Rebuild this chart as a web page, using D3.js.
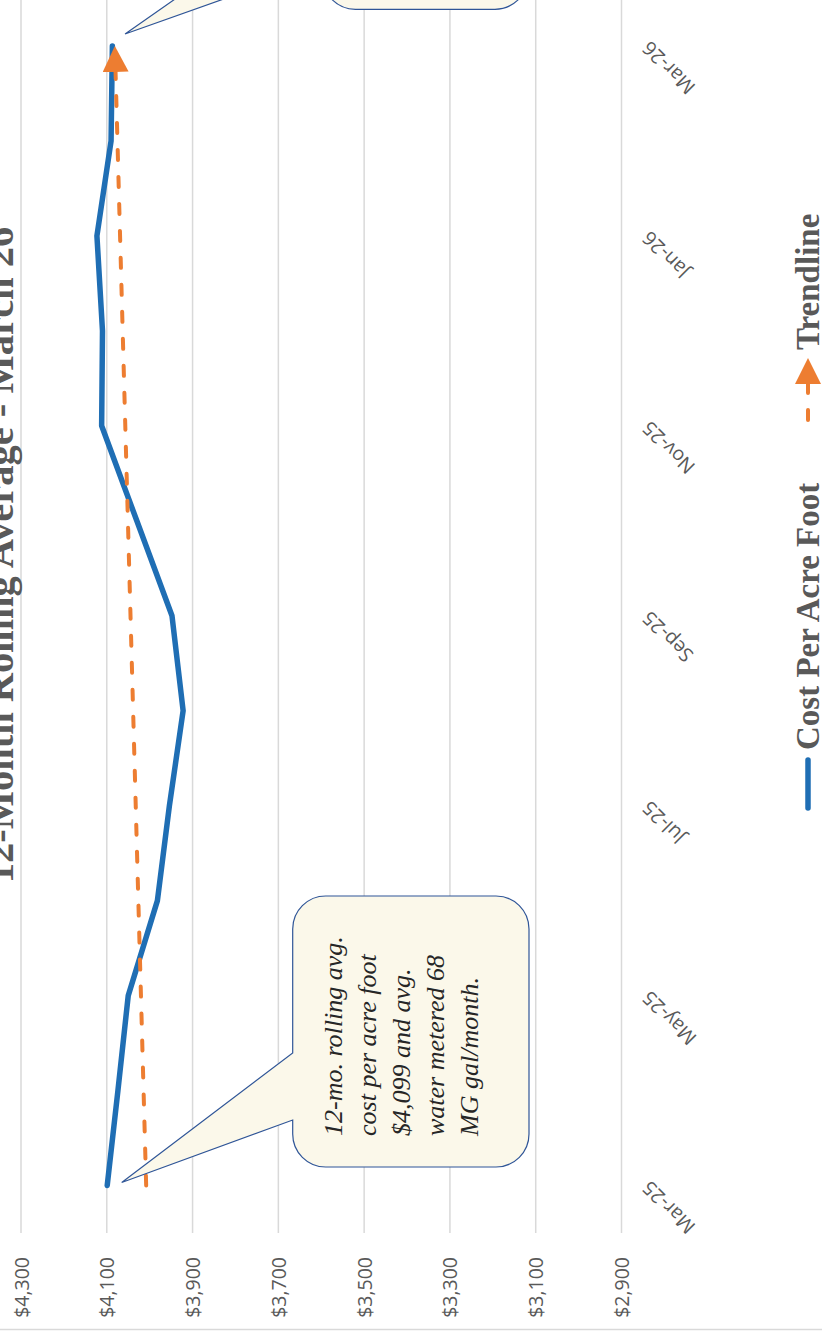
<!DOCTYPE html>
<html>
<head>
<meta charset="utf-8">
<script src="https://cdn.jsdelivr.net/npm/d3@7"></script>
<style>
  html, body { margin: 0; padding: 0; background: #fff; }
  svg { display: block; }
</style>
</head>
<body>
<svg id="chart" width="822" height="1331"></svg>
<script>
// ---- data ----
const months = ["Mar-25","Apr-25","May-25","Jun-25","Jul-25","Aug-25","Sep-25","Oct-25","Nov-25","Dec-25","Jan-26","Feb-26","Mar-26"];
const costPerAcreFoot = [4099, 4074, 4050, 3982, 3954, 3922, 3948, 4030, 4112, 4110, 4123, 4090, 4087];
const yTicks = [2900, 3100, 3300, 3500, 3700, 3900, 4100, 4300];
const labelMonths = ["Mar-25","May-25","Jul-25","Sep-25","Nov-25","Jan-26","Mar-26"];
const titleText = "12-Month Rolling Average - March 26";
const seriesName = "Cost Per Acre Foot";
const trendName = "Trendline";
const calloutLines = ["12-mo. rolling avg.", "cost per acre foot", "$4,099 and avg.", "water metered 68", "MG gal/month."];

// ---- layout ----
const W = 822, H = 1331;
const BLUE = "#1f6eb4", ORANGE = "#ed7d31", GRID = "#d9d9d9", TEXT = "#595959";
const plot = { left: 98, right: 1332.5, top: 21, bottom: 621.5 };

const svg = d3.select("#chart");
const defs = svg.append("defs");
defs.append("marker")
  .attr("id", "arrow")
  .attr("viewBox", "0 0 26 26")
  .attr("refX", 18).attr("refY", 13)
  .attr("markerWidth", 26).attr("markerHeight", 26)
  .attr("markerUnits", "userSpaceOnUse")
  .attr("orient", "auto")
  .append("path").attr("d", "M0,0 L26,13 L0,26 Z").attr("fill", ORANGE);

// the whole chart is laid out in its own frame and turned a quarter turn
const g = svg.append("g").attr("transform", `translate(0,${H}) rotate(-90)`);

const x = d3.scalePoint().domain(months).range([plot.left, plot.right]).padding(0.5);
const y = d3.scaleLinear().domain([2900, 4300]).range([plot.bottom, plot.top]);

// outer border of the chart area
g.append("line").attr("x1", 1.5).attr("x2", 1.5).attr("y1", 0).attr("y2", W)
  .attr("stroke", GRID).attr("stroke-width", 1.5);

// gridlines
g.append("g").selectAll("line").data(yTicks).join("line")
  .attr("x1", plot.left).attr("x2", plot.right)
  .attr("y1", d => y(d)).attr("y2", d => y(d))
  .attr("stroke", GRID).attr("stroke-width", 1.5);

// value axis labels
g.append("g").selectAll("text").data(yTicks).join("text")
  .attr("x", plot.left - 24).attr("y", d => y(d))
  .attr("text-anchor", "end").attr("dominant-baseline", "central")
  .attr("font-family", "'Open Sans', sans-serif").attr("font-size", 19.5)
  .attr("fill", TEXT)
  .text(d => d3.format("$,")(d));

// category labels
g.append("g").selectAll("text").data(labelMonths).join("text")
  .attr("transform", d => `translate(${x(d) + 6},${plot.bottom + 29}) rotate(-45)`)
  .attr("text-anchor", "end")
  .attr("font-family", "'Open Sans', sans-serif").attr("font-size", 19.5)
  .attr("fill", TEXT)
  .text(d => d);

// series
const pts = months.map((m, i) => ({ m, v: costPerAcreFoot[i], i }));
g.append("path").datum(pts)
  .attr("d", d3.line().x(d => x(d.m)).y(d => y(d.v)))
  .attr("fill", "none").attr("stroke", BLUE).attr("stroke-width", 5.5)
  .attr("stroke-linejoin", "round").attr("stroke-linecap", "round");

// least-squares trendline
const n = pts.length;
const mi = d3.mean(pts, d => d.i), mv = d3.mean(pts, d => d.v);
const slope = d3.sum(pts, d => (d.i - mi) * (d.v - mv)) / d3.sum(pts, d => (d.i - mi) ** 2);
const icpt = mv - slope * mi;
const t0 = [x(months[0]), y(icpt)];
const t1 = [x(months[n - 1]), y(icpt + slope * (n - 1))];
const len = Math.hypot(t1[0] - t0[0], t1[1] - t0[1]);
const ux = (t1[0] - t0[0]) / len, uy = (t1[1] - t0[1]) / len;
g.append("line")
  .attr("x1", t0[0]).attr("y1", t0[1])
  .attr("x2", t1[0] - 8 * ux).attr("y2", t1[1] - 8 * uy)
  .attr("stroke", ORANGE).attr("stroke-width", 4)
  .attr("stroke-dasharray", "10 17").attr("stroke-linecap", "round")
  .attr("marker-end", "url(#arrow)");

// title
g.append("text")
  .attr("x", 776).attr("y", 13).attr("text-anchor", "middle")
  .attr("font-family", "'Liberation Serif', serif").attr("font-weight", "bold")
  .attr("font-size", 40.5).attr("fill", TEXT)
  .text(titleText);

// legend
const legY = 808;
g.append("line").attr("x1", 523).attr("x2", 571).attr("y1", legY).attr("y2", legY)
  .attr("stroke", BLUE).attr("stroke-width", 5.5).attr("stroke-linecap", "round");
g.append("text").attr("x", 581).attr("y", legY + 11)
  .attr("font-family", "'Liberation Serif', serif").attr("font-weight", "bold")
  .attr("font-size", 33).attr("fill", TEXT).text(seriesName);
g.append("line").attr("x1", 911).attr("x2", 965).attr("y1", legY).attr("y2", legY)
  .attr("stroke", ORANGE).attr("stroke-width", 4)
  .attr("stroke-dasharray", "10 17").attr("stroke-linecap", "round")
  .attr("marker-end", "url(#arrow)");
g.append("text").attr("x", 981).attr("y", legY + 11)
  .attr("font-family", "'Liberation Serif', serif").attr("font-weight", "bold")
  .attr("font-size", 33).attr("fill", TEXT).text(trendName);

// callouts: rounded box with a wedge pointing at a data point
function calloutPath(u0, u1, v0, v1, r, b1, b2, tip) {
  const p = d3.path();
  p.moveTo(u0 + r, v0);
  p.lineTo(b1, v0);
  p.lineTo(tip[0], tip[1]);
  p.lineTo(b2, v0);
  p.lineTo(u1 - r, v0);
  p.arcTo(u1, v0, u1, v0 + r, r);
  p.lineTo(u1, v1 - r);
  p.arcTo(u1, v1, u1 - r, v1, r);
  p.lineTo(u0 + r, v1);
  p.arcTo(u0, v1, u0, v1 - r, r);
  p.lineTo(u0, v0 + r);
  p.arcTo(u0, v0, u0 + r, v0, r);
  p.closePath();
  return p.toString();
}
const first = pts[0], last = pts[n - 1];
g.append("path")
  .attr("d", calloutPath(164, 435, 292.7, 529, 33, 211, 278, [x(first.m) + 3, y(first.v) + 14.5]))
  .attr("fill", "#fbf8ea").attr("stroke", "#2f5597").attr("stroke-width", 1.2);
g.append("path")
  .attr("d", calloutPath(1321.7, 1700, 322.4, 528, 33, 1367, 1435, [x(last.m) + 12, y(last.v) + 12.7]))
  .attr("fill", "#fbf8ea").attr("stroke", "#2f5597").attr("stroke-width", 1.2);

g.append("g").selectAll("text").data(calloutLines).join("text")
  .attr("x", 195).attr("y", (d, i) => 342 + 34 * i)
  .attr("font-family", "'Liberation Serif', serif").attr("font-style", "italic")
  .attr("font-size", 26).attr("fill", "#262626")
  .text(d => d);
</script>
</body>
</html>
